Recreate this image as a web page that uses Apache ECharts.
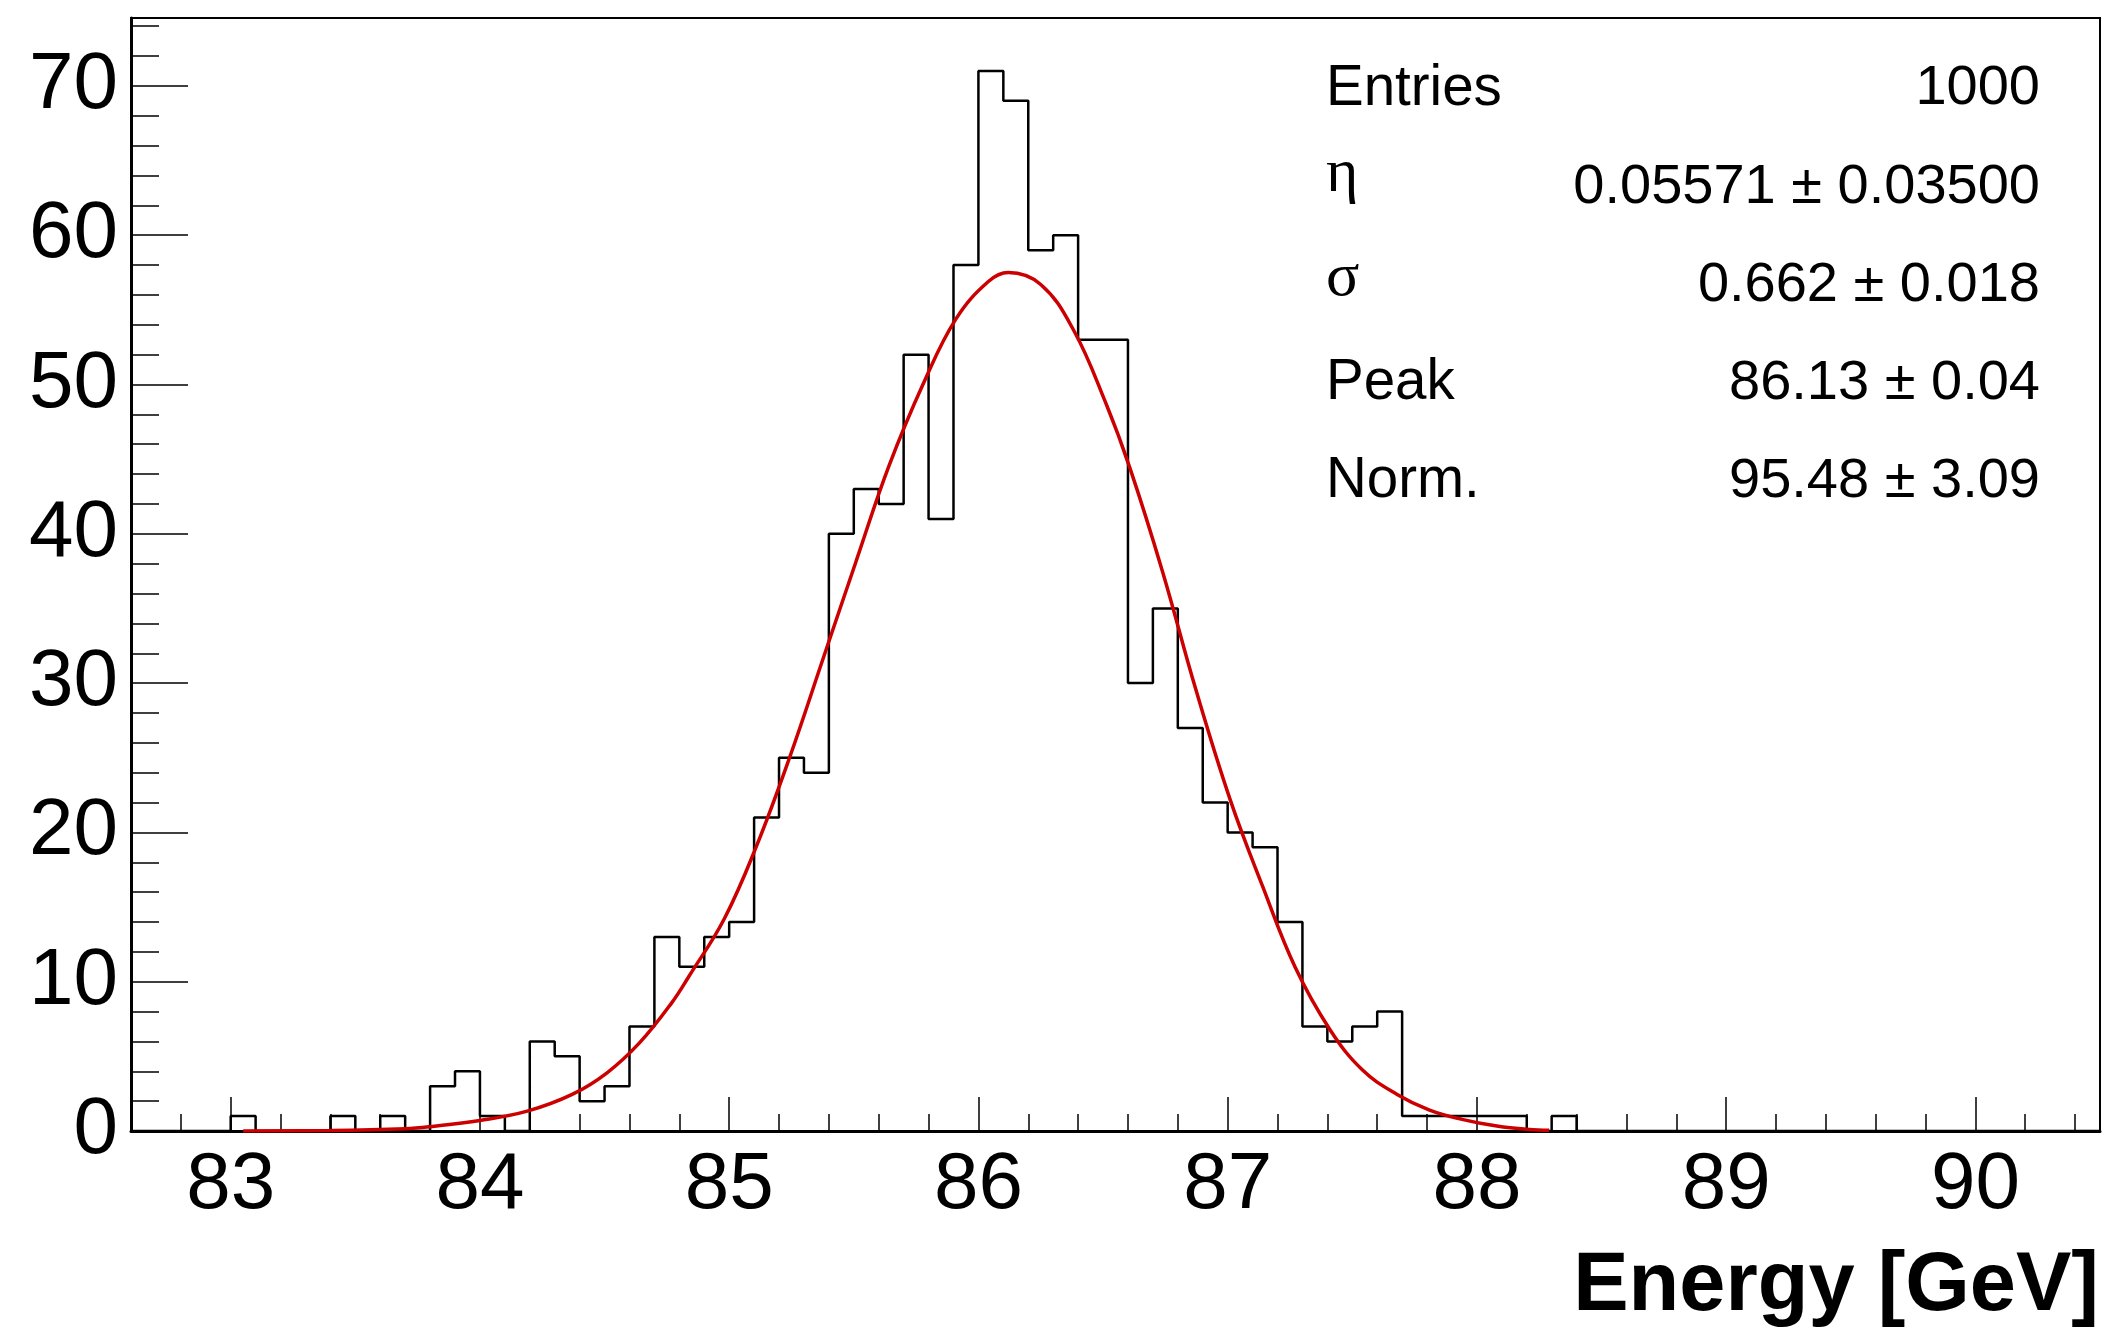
<!DOCTYPE html>
<html>
<head>
<meta charset="utf-8">
<title>Energy</title>
<script src="https://cdn.jsdelivr.net/npm/echarts@6.0.0/dist/echarts.min.js"></script>
<style>
html,body{margin:0;padding:0;background:#fff;}
#main{width:2115px;height:1337px;}
</style>
</head>
<body>
<div id="main"></div>
<script>
// histogram bins: 0.1 GeV wide, starting at 82.6
var binStart = 82.6;
var binWidth = 0.1;
var counts = [
	0, 0, 0, 0, 1, 0, 0, 0, 1, 0,      // 82.6 - 83.5
	1, 0, 3, 4, 1, 0, 6, 5, 2, 3,      // 83.6 - 84.5
	7, 13, 11, 13, 14, 21, 25, 24, 40, 43,  // 84.6 - 85.5
	42, 52, 41, 58, 71, 69, 59, 60, 53, 53, // 85.6 - 86.5
	30, 35, 27, 22, 20, 19, 14, 7, 6, 7,    // 86.6 - 87.5
	8, 1, 1, 1, 1, 1, 0, 1, 0, 0,      // 87.6 - 88.5
	0, 0, 0, 0, 0, 0, 0, 0, 0, 0,      // 88.6 - 89.5
	0, 0, 0, 0, 0, 0, 0, 0, 0          // 89.6 - 90.4
];

// fit curve
var fitX = [83.05, 83.4, 83.7, 83.8, 84.0, 84.19, 84.37, 84.51, 84.64, 84.77,
	84.84, 84.98, 85.11, 85.24, 85.38, 85.51, 85.64, 85.78, 85.91, 86.04,
	86.12, 86.25, 86.38, 86.51, 86.61, 86.74, 86.87, 87.01, 87.14, 87.27,
	87.41, 87.54, 87.68, 87.81, 87.94, 88.08, 88.21, 88.29];
var fitY = [0.0, 0.03, 0.15, 0.29, 0.71, 1.33, 2.45, 3.9, 5.9, 8.6,
	10.4, 14.2, 19.1, 24.9, 31.8, 38.2, 44.5, 50.1, 54.4, 56.9,
	57.5, 56.7, 53.7, 48.8, 44.3, 37.4, 29.7, 22.2, 16.4, 11.0,
	6.8, 4.1, 2.45, 1.4, 0.78, 0.33, 0.1, 0.05];

// axis ticks
var xMajorTicks = [83, 84, 85, 86, 87, 88, 89, 90];
var yMajorTicks = [0, 10, 20, 30, 40, 50, 60, 70];
var xMinorTicks = [];
for (var i = 0; i < 39; i++) {
	xMinorTicks.push(Math.round((82.8 + i * 0.2) * 10) / 10);
}
var yMinorTicks = [];
for (var j = 2; j <= 74; j += 2) {
	yMinorTicks.push(j);
}

// stats box
var statNames = ['Entries', 'η', 'σ', 'Peak', 'Norm.'];
var statValues = ['1000', '0.05571 ± 0.03500', '0.662 ± 0.018', '86.13 ± 0.04', '95.48 ± 3.09'];

var xMin = 82.6, xMax = 90.5, yMax = 74.55;

var histData = counts.map(function(c, i) {
	return [binStart + i * binWidth, c];
});
histData.push([binStart + counts.length * binWidth, counts[counts.length - 1]]);

var fitData = fitX.map(function(x, i) {
	return [x, fitY[i]];
});

var FONT = '"Liberation Sans", Arial, Helvetica, sans-serif';

var texts = [];
statNames.forEach(function(name, i) {
	var greek = (name == 'η' || name == 'σ');
	var cy = 89 + i * 98.1;
	texts.push({
		type: 'text',
		silent: true,
		style: {
			text: name,
			x: 1326,
			y: greek ? (name == 'η' ? cy - 12 : cy - 6) : cy,
			align: 'left',
			verticalAlign: 'middle',
			font: greek ? '62px "Liberation Serif", "DejaVu Serif", serif' : '56.5px ' + FONT,
			fill: '#000'
		}
	});
	texts.push({
		type: 'text',
		silent: true,
		style: {
			text: statValues[i],
			x: 2040,
			y: cy,
			align: 'right',
			verticalAlign: 'middle',
			font: '56px ' + FONT,
			fill: '#000'
		}
	});
});
// axis title
texts.push({
	type: 'text',
	silent: true,
	style: {
		text: 'Energy [GeV]',
		x: 2099,
		y: 1287,
		align: 'right',
		verticalAlign: 'middle',
		font: 'bold 83px ' + FONT,
		fill: '#000'
	}
});

function axisX(major) {
	return {
		type: 'value',
		min: xMin,
		max: xMax,
		position: 'bottom',
		axisLine: { show: major, onZero: false, lineStyle: { color: '#000', width: 3 } },
		axisTick: {
			show: true,
			inside: true,
			length: major ? 34 : 17,
			customValues: major ? xMajorTicks : xMinorTicks,
			lineStyle: { color: '#000', width: 1.5 }
		},
		axisLabel: {
			show: major,
			customValues: xMajorTicks,
			fontSize: 80,
			fontFamily: FONT,
			color: '#000',
			margin: 15
		},
		splitLine: { show: false }
	};
}

function axisY(major) {
	return {
		type: 'value',
		min: 0,
		max: yMax,
		position: 'left',
		axisLine: { show: major, onZero: false, lineStyle: { color: '#000', width: 3 } },
		axisTick: {
			show: true,
			inside: true,
			length: major ? 57 : 28,
			customValues: major ? yMajorTicks : yMinorTicks,
			lineStyle: { color: '#000', width: 1.5 }
		},
		axisLabel: {
			show: major,
			customValues: yMajorTicks,
			fontSize: 80,
			fontFamily: FONT,
			color: '#000',
			margin: 13
		},
		splitLine: { show: false }
	};
}

var chart = echarts.init(document.getElementById('main'), null, { renderer: 'canvas' });
var option = {
	backgroundColor: '#fff',
	animation: false,
	grid: {
		left: 131,
		right: 15,
		top: 18,
		bottom: 206,
		show: true,
		borderColor: '#000',
		borderWidth: 2,
		outerBoundsMode: 'none'
	},
	xAxis: [axisX(true), axisX(false)],
	yAxis: [axisY(true), axisY(false)],
	series: [{
		type: 'line',
		data: histData,
		step: 'end',
		symbol: 'none',
		silent: true,
		lineStyle: { color: '#000', width: 2.5 },
		z: 3
	}, {
		type: 'line',
		data: fitData,
		smooth: 0.4,
		symbol: 'none',
		silent: true,
		lineStyle: { color: '#cc0000', width: 3.5 },
		z: 4
	}],
	graphic: texts
};
chart.setOption(option);
</script>
</body>
</html>
